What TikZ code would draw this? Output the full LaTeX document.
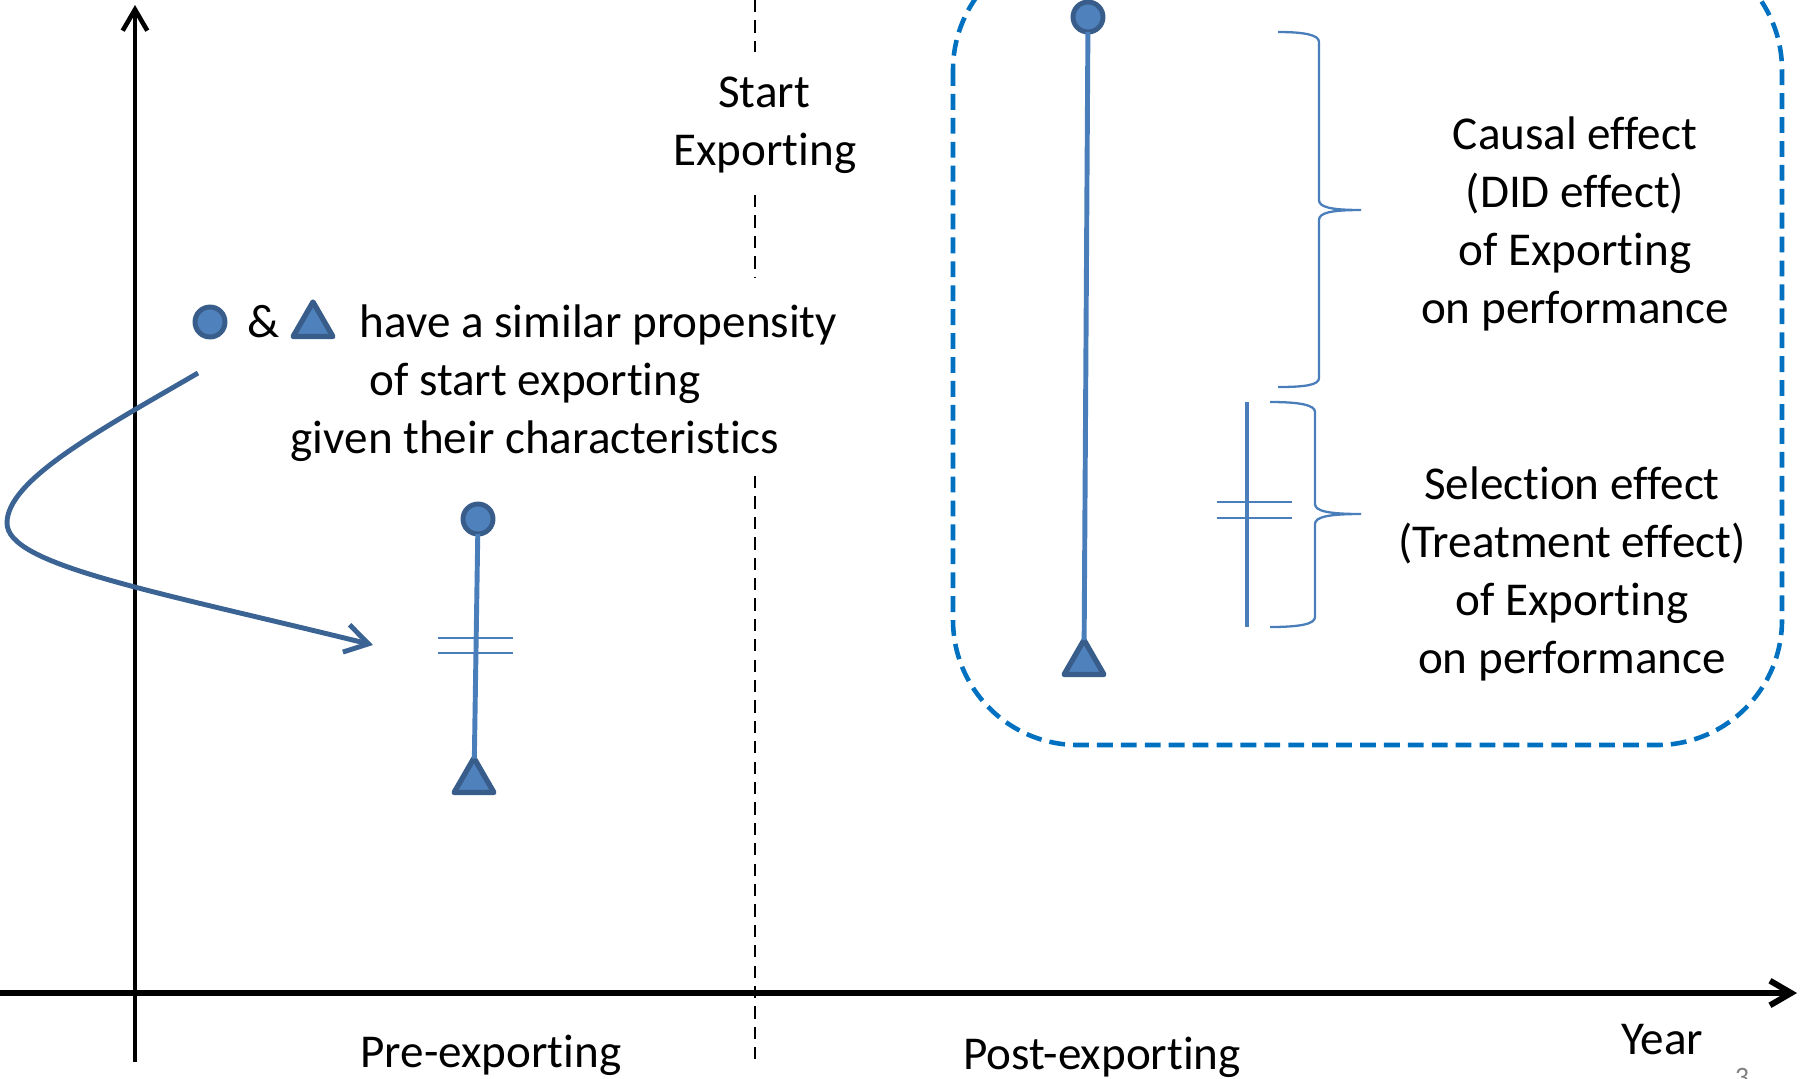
\documentclass[tikz,border=0pt]{standalone}
\usepackage{fontspec}
\setmainfont{Carlito}[RawFeature={-liga;-clig;-calt;-dlig}]
\usetikzlibrary{arrows.meta,shapes.geometric}
\definecolor{mfill}{HTML}{4F81BD}
\definecolor{mdraw}{HTML}{385D8A}
\definecolor{mline}{HTML}{4A7EBB}
\definecolor{boxblue}{HTML}{0070C0}
\definecolor{curveblue}{HTML}{3B6494}
\begin{document}
\begin{tikzpicture}[x=0.01cm,y=-0.01cm,
  lbl/.style={inner sep=0pt, anchor=base, font=\fontsize{13.4}{16.4}\selectfont},
  dotmark/.style={circle, fill=mfill, draw=mdraw, line width=1.4pt, minimum size=0.30cm, inner sep=0pt, outer sep=0pt},
  trimark/.style={regular polygon, regular polygon sides=3, fill=mfill, draw=mdraw, line width=1.5pt, line join=round, minimum size=0.46cm, inner sep=0pt, outer sep=0pt},
  stick/.style={draw=mline, line width=1.4pt},
  tickline/.style={draw=mline, line width=0.6pt},
  bracepath/.style={draw=mline, line width=0.65pt},
  axisline/.style={draw=black, line width=1.5pt, -{Straight Barb[length=6pt,width=7pt]}},
  splitdash/.style={draw=black, line width=0.6pt, dash pattern=on 3.5pt off 2.3pt},
  boxdash/.style={draw=boxblue, line width=1.3pt, dash pattern=on 4.5pt off 2.3pt, rounded corners=1.25cm},
  curvearrow/.style={draw=curveblue, line width=1.4pt, -{Straight Barb[length=6.5pt,width=8pt]}}
]
\useasboundingbox (0,0) rectangle (1800,1078);

% axes
\coordinate (xs) at (0,993);
\coordinate (xe) at (1797,993);
\coordinate (ys) at (135,1062);
\coordinate (ye) at (135,5);
\draw[axisline, line width=1.7pt] (xs) -- (xe);
\draw[axisline, line width=1.3pt] (ys) -- (ye);

% split line (start exporting)
\coordinate (d1a) at (755,0);
\coordinate (d1b) at (755,52);
\coordinate (d2a) at (755,195);
\coordinate (d2b) at (755,277);
\coordinate (d3a) at (755,476);
\coordinate (d3b) at (755,1062);
\draw[splitdash] (d1a) -- (d1b);
\draw[splitdash] (d2a) -- (d2b);
\draw[splitdash] (d3a) -- (d3b);

\node[lbl] (start1) at (764,107) {Start};
\node[lbl] (start2) at (765,165) {Exporting};

% legend line
\node[dotmark] (lc) at (210,322) {};
\node[lbl] (amp) at (264,337) {\&};
\node[trimark] (lt) at (313,325) {};
\node[lbl, anchor=base west] (prop1) at (359,337) {have a similar propensity};
\node[lbl] (prop2) at (535,395) {of start exporting};
\node[lbl] (prop3) at (535,453) {given their characteristics};

% pre-exporting stick
\node[dotmark] (c1) at (478,519) {};
\node[trimark] (t1) at (474,781) {};
\draw[stick] (c1) -- (t1);
\draw[tickline] (438,638) -- (513,638);
\draw[tickline] (438,653) -- (513,653);

% curved arrow
\coordinate (cs) at (198,373);
\coordinate (cm) at (7,523);
\coordinate (ce) at (373,645);
\draw[curvearrow] (cs) .. controls (100,430) and (7,480) .. (cm)
  .. controls (7,565) and (150,590) .. (ce);

% dashed rounded box
\draw[boxdash] (953,-55) rectangle (1782,745);

% post-exporting stick
\node[dotmark] (c2) at (1088,17) {};
\node[trimark] (t2) at (1084,663) {};
\draw[stick] (c2) -- (t2);

% selection bar
\coordinate (sb1) at (1247,402);
\coordinate (sb2) at (1247,627);
\draw[stick] (sb1) -- (sb2);
\draw[tickline] (1217,502) -- (1292,502);
\draw[tickline] (1217,518) -- (1292,518);

% braces
\draw[bracepath] (1278,32) .. controls (1305,32) and (1319,35) .. (1319,42) -- (1319,200)
  .. controls (1319,207) and (1330,210) .. (1361,210)
  .. controls (1330,210) and (1319,213) .. (1319,220) -- (1319,378)
  .. controls (1319,385) and (1305,387) .. (1278,387);
\draw[bracepath] (1270,402) .. controls (1300,402) and (1315,405) .. (1315,412) -- (1315,504)
  .. controls (1315,511) and (1328,514) .. (1361,514)
  .. controls (1328,514) and (1315,517) .. (1315,524) -- (1315,617)
  .. controls (1315,624) and (1300,627) .. (1270,627);

% right texts
\node[lbl] (causal1) at (1575,149) {Causal effect};
\node[lbl] (causal2) at (1575,207) {(DID effect)};
\node[lbl] (causal3) at (1575,265) {of Exporting};
\node[lbl] (causal4) at (1575,323) {on performance};
\node[lbl] (sel1) at (1572,499) {Selection effect};
\node[lbl] (sel2) at (1572,557) {(Treatment effect)};
\node[lbl] (sel3) at (1572,615) {of Exporting};
\node[lbl] (sel4) at (1572,673) {on performance};

% axis labels
\node[lbl] (pre) at (491,1067) {Pre-exporting};
\node[lbl] (post) at (1102,1069) {Post-exporting};
\node[lbl] (year) at (1662,1054) {Year};
\node[inner sep=0pt, anchor=north, font=\fontsize{8}{9}\selectfont, text=gray] (pagenum) at (1742,1068) {3};
\end{tikzpicture}
\end{document}
